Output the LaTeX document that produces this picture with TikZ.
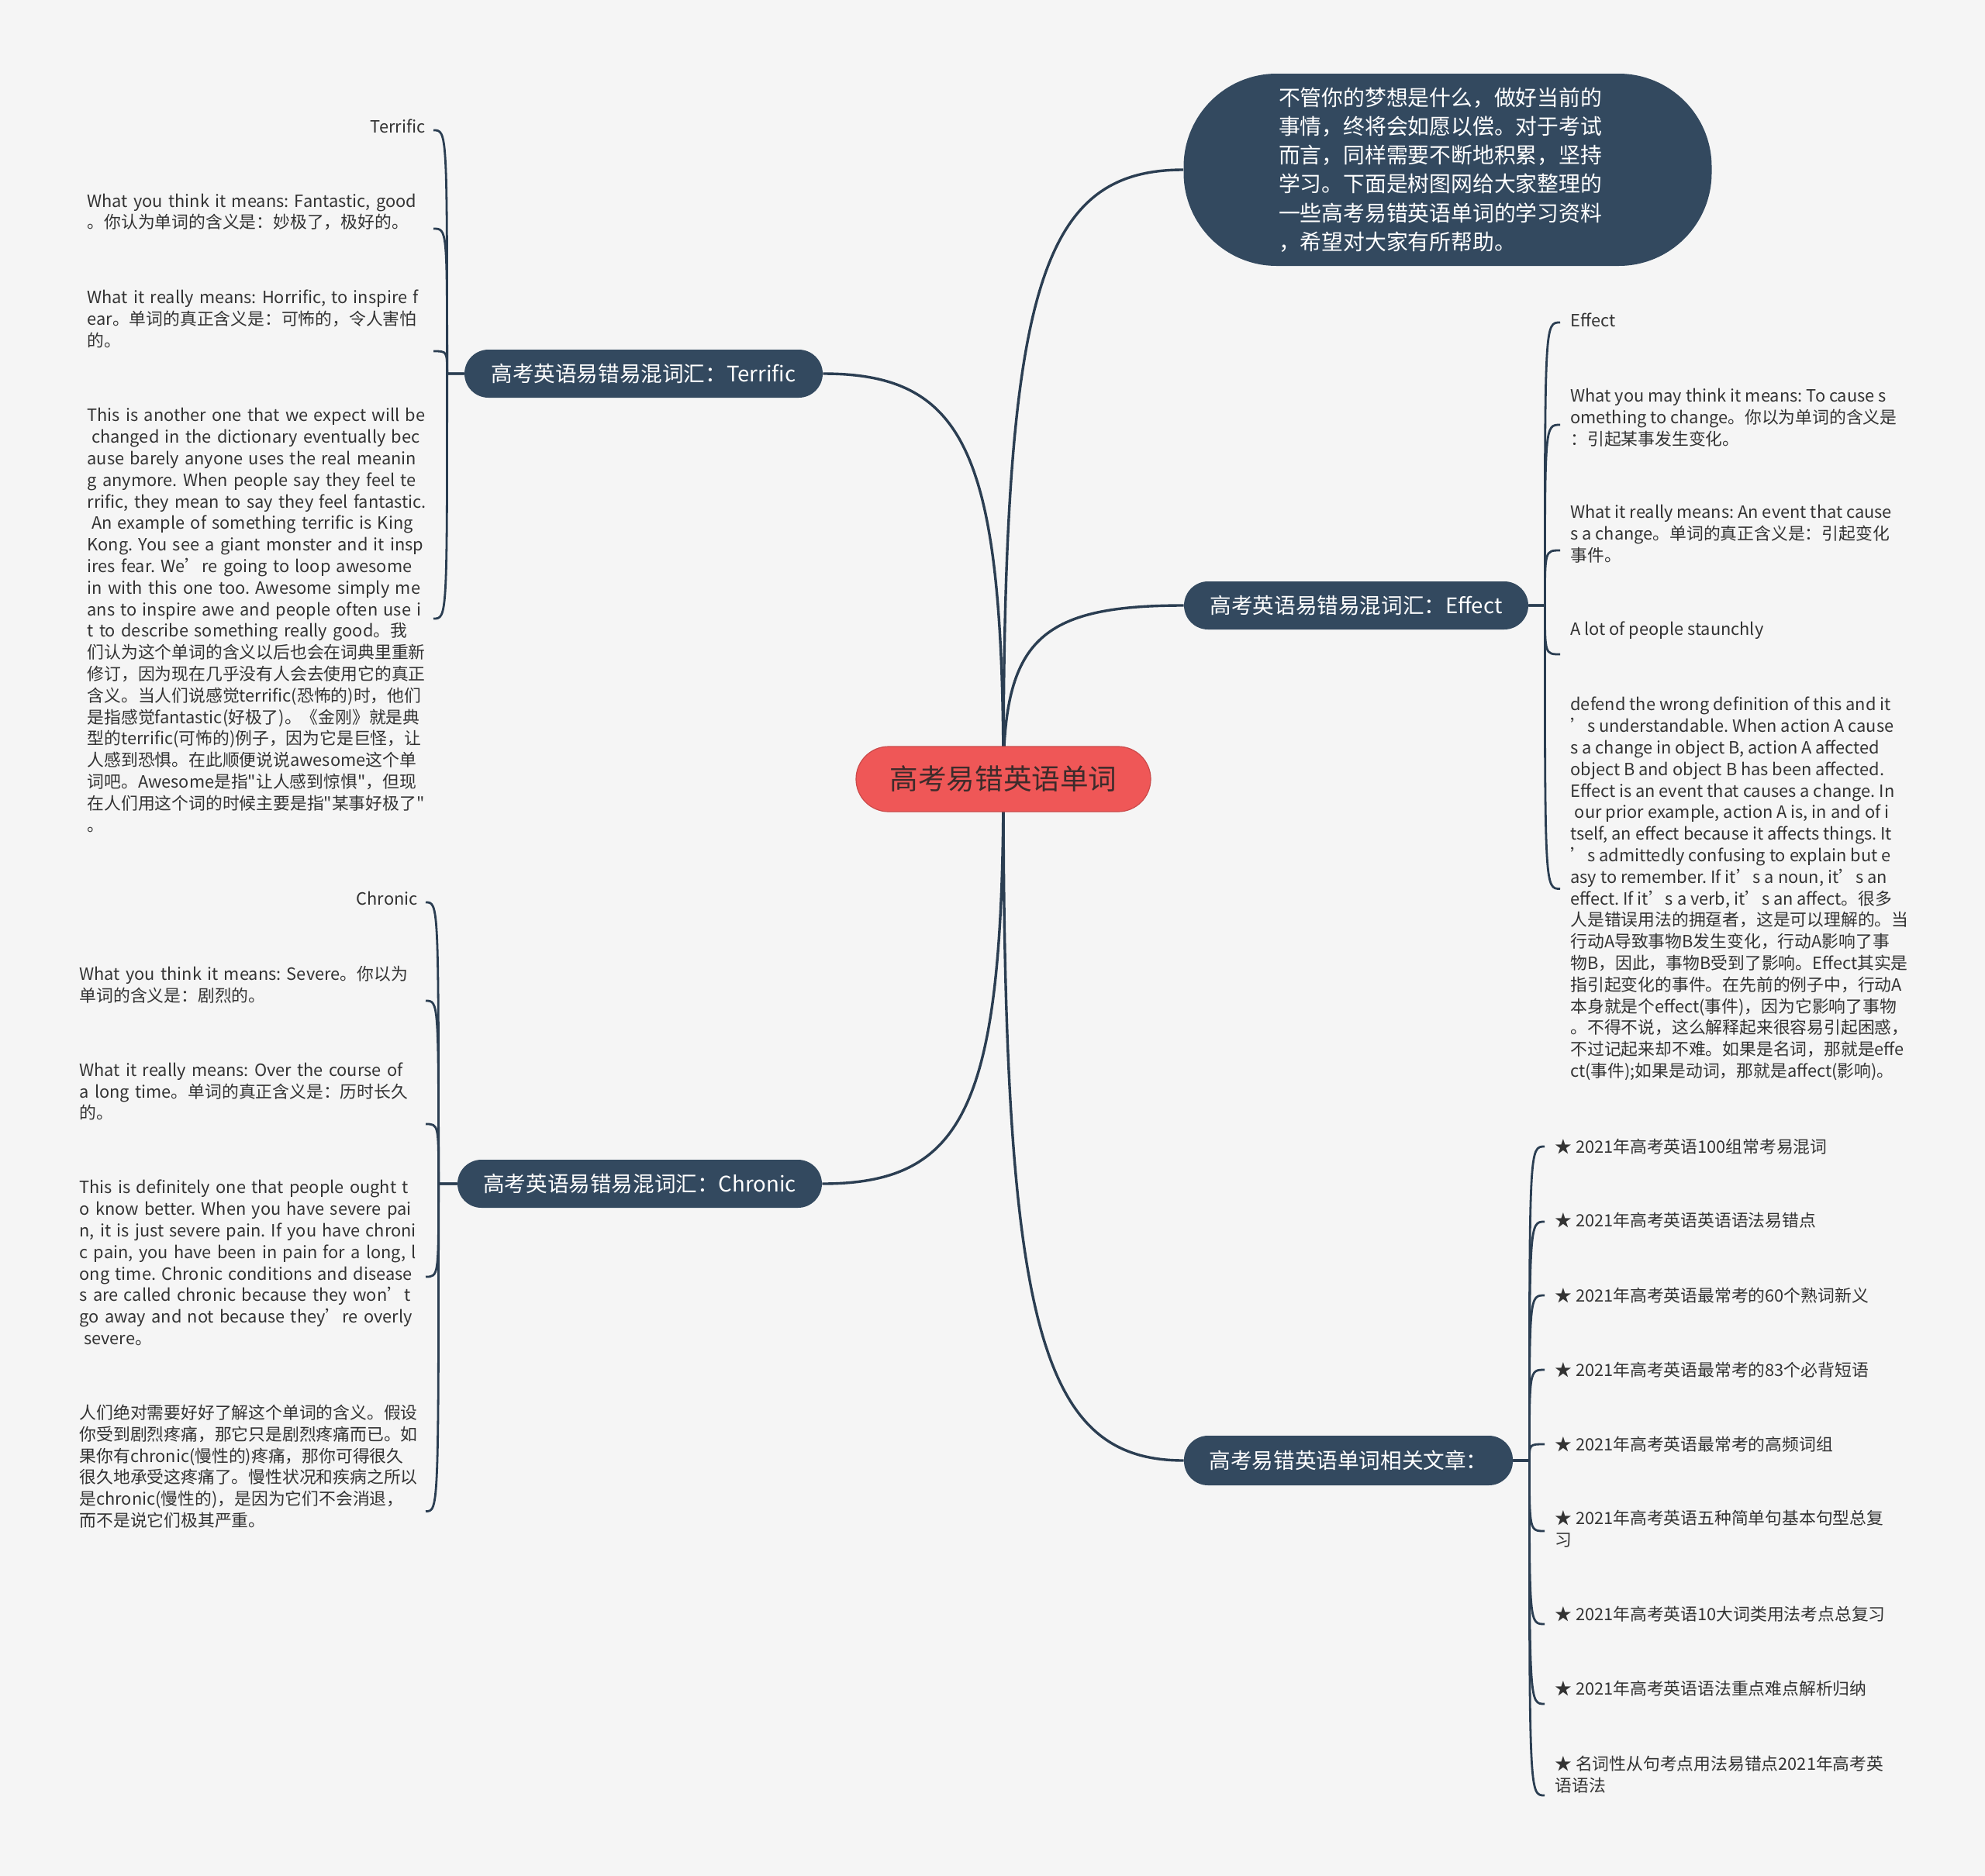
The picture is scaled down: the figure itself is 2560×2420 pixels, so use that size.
\documentclass[tikz,border=0pt]{standalone}
\usepackage{fontspec}
\setmainfont{Noto Sans CJK SC}[Ligatures=TeXOff]
\frenchspacing
\usetikzlibrary{calc,backgrounds}
\definecolor{paper}{HTML}{F5F5F5}
\definecolor{slate}{HTML}{33495F}
\definecolor{wire}{HTML}{2B3E52}
\definecolor{coral}{HTML}{EF5757}
\definecolor{inkDark}{HTML}{333333}
\definecolor{rootInk}{HTML}{3D2B2B}

\begin{document}
\begin{tikzpicture}[x=0.5pt,y=-0.5pt,
    rootbox/.style={rectangle,fill=coral,draw=coral!85!black,line width=0.6pt,
                    minimum width=190pt,minimum height=42pt,rounded corners=21pt,
                    text=rootInk,font=\fontsize{18.3}{21}\selectfont},
    topicbox/.style={rectangle,fill=slate,minimum height=31pt,rounded corners=15.5pt,
                     text=white,font=\fontsize{13.8}{16}\selectfont,inner xsep=0pt},
    introbox/.style={rectangle,fill=slate,minimum width=340.5pt,minimum height=124pt,
                     rounded corners=60pt,text=white,align=left,text width=218pt,
                     font=\fontsize{13.9}{18.6}\selectfont},
    leaf/.style={inner xsep=6.5pt,inner ysep=1pt,align=left,text=inkDark,
                 font=\fontsize{10.9}{13.9}\selectfont},
    leafl/.style={leaf,inner xsep=5pt,anchor=east,text width=218pt},
    branch/.style={draw=wire,line width=1.7pt,
                   to path={.. controls ($(\tikztostart)!0.8!(\tikztostart |- \tikztotarget)$)
                            and ($(\tikztotarget)!0.8!(\tikztostart |- \tikztotarget)$) .. (\tikztotarget)}},
    twig/.style={draw=wire,line width=1.4pt,
                 to path={.. controls (\tikztostart |- \tikztotarget) and (\tikztostart |- \tikztotarget) .. (\tikztotarget)}}
  ]
  % centre and main topics
  \node[rootbox] (root) at (1294,1005) {高考易错英语单词};
  \node[introbox] (intro) at (1867,219) {不管你的梦想是什么，做好当前的\\事情，终将会如愿以偿。对于考试\\而言，同样需要不断地积累，坚持\\学习。下面是树图网给大家整理的\\一些高考易错英语单词的学习资料\\，希望对大家有所帮助。};
  \node[topicbox,minimum width=231pt] (tc) at (830,482) {高考英语易错易混词汇：Terrific};
  \node[topicbox,minimum width=222pt] (ec) at (1749,781) {高考英语易错易混词汇：Effect};
  \node[topicbox,minimum width=235pt] (cc) at (825,1527) {高考英语易错易混词汇：Chronic};
  \node[topicbox,minimum width=212pt,minimum height=32pt] (rc) at (1739,1884) {高考易错英语单词相关文章：};
  \coordinate (ts) at ($(tc.west)+(-22,0)$);
  \coordinate (cs) at ($(cc.west)+(-24,0)$);
  \coordinate (es) at ($(ec.east)+(21,0)$);
  \coordinate (rs) at ($(rc.east)+(21,0)$);
  % Terrific
  \node[leaf,anchor=east,inner xsep=5pt] (t1) at (559,163) {Terrific};
  \node[leafl] (t2) at (559,273.5) {What you think it means: Fantastic, good\\。你认为单词的含义是：妙极了，极好的。};
  \node[leafl] (t3) at (559,411.5) {What it really means: Horrific, to inspire f\\ear。单词的真正含义是：可怖的，令人害怕\\的。};
  \node[leafl] (t4) at (559,800) {This is another one that we expect will be\\\hspace*{.25em}changed in the dictionary eventually bec\\ause barely anyone uses the real meanin\\g anymore. When people say they feel te\\\mbox{rrific, they mean to say they feel fantastic.}\\\hspace*{.25em}An example of something terrific is King\\Kong. You see a giant monster and it insp\\ires fear. We’re going to loop awesome\\in with this one too. Awesome simply me\\ans to inspire awe and people often use i\\t to describe something really good。我\\们认为这个单词的含义以后也会在词典里重新\\修订，因为现在几乎没有人会去使用它的真正\\含义。当人们说感觉terrific(恐怖的)时，他们\\是指感觉fantastic(好极了)。《金刚》就是典\\型的terrific(可怖的)例子，因为它是巨怪，让\\人感到恐惧。在此顺便说说awesome这个单\\词吧。Awesome是指"让人感到惊惧"，但现\\在人们用这个词的时候主要是指"某事好极了"\\。};
  % Chronic
  \node[leaf,anchor=east,inner xsep=5pt] (c1) at (549,1159) {Chronic};
  \node[leafl] (c2) at (549,1270) {What you think it means: Severe。你以为\\单词的含义是：剧烈的。};
  \node[leafl] (c3) at (549,1408) {What it really means: Over the course of\\a long time。单词的真正含义是：历时长久\\的。};
  \node[leafl] (c4) at (549,1629) {This is definitely one that people ought t\\o know better. When you have severe pai\\n, it is just severe pain. If you have chroni\\c pain, you have been in pain for a long, l\\ong time. Chronic conditions and disease\\s are called chronic because they won’t\\go away and not because they’re overly\\\hspace*{.25em}severe。};
  \node[leafl] (c5) at (549,1891.5) {人们绝对需要好好了解这个单词的含义。假设\\你受到剧烈疼痛，那它只是剧烈疼痛而已。如\\果你有chronic(慢性的)疼痛，那你可得很久\\很久地承受这疼痛了。慢性状况和疾病之所以\\是chronic(慢性的)，是因为它们不会消退，\\而不是说它们极其严重。};
  % Effect
  \node[leaf,anchor=west] (e1) at (2012,413) {Effect};
  \node[leaf,anchor=west] (e2) at (2012,539) {What you may think it means: To cause s\\omething to change。你以为单词的含义是\\：引起某事发生变化。};
  \node[leaf,anchor=west] (e3) at (2012,689) {What it really means: An event that cause\\s a change。单词的真正含义是：引起变化\\事件。};
  \node[leaf,anchor=west] (e4) at (2012,813) {A lot of people staunchly};
  \node[leaf,anchor=west] (e5) at (2012,1146.5) {defend the wrong definition of this and it\\’s understandable. When action A cause\\s a change in object B, action A affected\\object B and object B has been affected.\\Effect is an event that causes a change. In\\\hspace*{.25em}our prior example, action A is, in and of i\\tself, an effect because it affects things. It\\’s admittedly confusing to explain but e\\asy to remember. If it’s a noun, it’s an\\effect. If it’s a verb, it’s an affect。很多\\人是错误用法的拥趸者，这是可以理解的。当\\行动A导致事物B发生变化，行动A影响了事\\物B，因此，事物B受到了影响。Effect其实是\\指引起变化的事件。在先前的例子中，行动A\\本身就是个effect(事件)，因为它影响了事物\\。不得不说，这么解释起来很容易引起困惑，\\不过记起来却不难。如果是名词，那就是effe\\ct(事件);如果是动词，那就是affect(影响)。};
  % related articles
  \node[leaf,anchor=west] (r1) at (1992,1479) {★ 2021年高考英语100组常考易混词};
  \node[leaf,anchor=west] (r2) at (1992,1574) {★ 2021年高考英语英语语法易错点};
  \node[leaf,anchor=west] (r3) at (1992,1671) {★ 2021年高考英语最常考的60个熟词新义};
  \node[leaf,anchor=west] (r4) at (1992,1767) {★ 2021年高考英语最常考的83个必背短语};
  \node[leaf,anchor=west] (r5) at (1992,1863) {★ 2021年高考英语最常考的高频词组};
  \node[leaf,anchor=west] (r6) at (1992,1972) {★ 2021年高考英语五种简单句基本句型总复\\习};
  \node[leaf,anchor=west] (r7) at (1992,2082) {★ 2021年高考英语10大词类用法考点总复习};
  \node[leaf,anchor=west] (r8) at (1992,2178) {★ 2021年高考英语语法重点难点解析归纳};
  \node[leaf,anchor=west] (r9) at (1992,2289) {★ 名词性从句考点用法易错点2021年高考英\\语语法};

  \begin{scope}[on background layer]
    \fill[paper] (0,0) rectangle (2560,2420);
    \draw[branch] (root.center) to (intro.west);
    \draw[branch] (root.center) to (ec.west);
    \draw[branch] (root.center) to (rc.west);
    \draw[branch] (root.center) to (tc.east);
    \draw[branch] (root.center) to (cc.east);
    \foreach \n/\d in {t1/-2.5,t2/-10.75,t3/-20.75,t4/1}{
      \coordinate (e) at ([yshift=\d pt]\n.east);
      \draw[twig] (tc.west) -- (ts) to (e);
    }
    \foreach \n/\d in {c1/-2.5,c2/-10.5,c3/-21,c4/-9,c5/-29}{
      \coordinate (e) at ([yshift=\d pt]\n.east);
      \draw[twig] (cc.west) -- (cs) to (e);
    }
    \foreach \n/\d in {e1/-1.5,e2/-4.5,e3/-10.5,e4/-15.5,e5/0}{
      \coordinate (e) at ([yshift=\d pt]\n.west);
      \draw[twig] (ec.east) -- (es) to (e);
    }
    \foreach \n/\d in {r1/0,r2/-1,r3/0,r4/0,r5/0,r6/-1.5,r7/-6.5,r8/-10,r9/-13.5}{
      \coordinate (e) at ([yshift=\d pt]\n.west);
      \draw[twig] (rc.east) -- (rs) to (e);
    }
  \end{scope}
\end{tikzpicture}
\end{document}
